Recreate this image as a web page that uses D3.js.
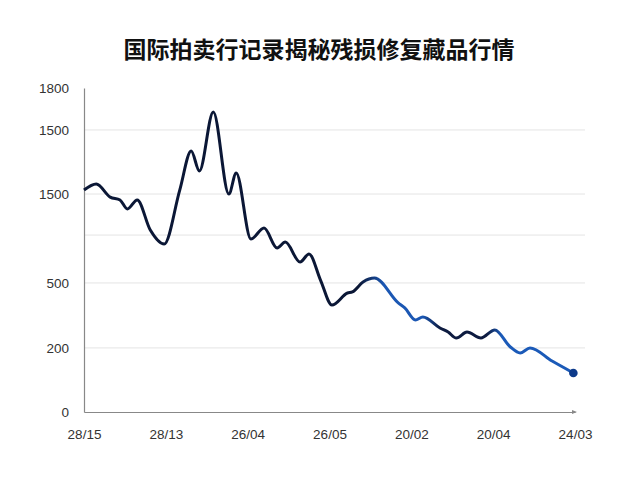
<!DOCTYPE html>
<html>
<head>
<meta charset="utf-8">
<script src="https://cdn.jsdelivr.net/npm/d3@7"></script>
<style>
  body { margin: 0; background: #fff; }
  svg text { font-family: "Liberation Sans", "DejaVu Sans", sans-serif; }
</style>
</head>
<body>
<svg id="chart" width="640" height="480"></svg>
<script>
const title = '国际拍卖行记录揭秘残损修复藏品行情'

// x 位置按刻度序号 (0..6)，y 为读出的数值
const xPos = [0, 0.15, 0.32, 0.44, 0.53, 0.65, 0.81, 0.98, 1.17, 1.31, 1.41, 1.58, 1.77, 1.86,
  2.04, 2.2, 2.36, 2.46, 2.64, 2.75, 2.89, 3.03, 3.22, 3.28, 3.41, 3.55, 3.84, 3.92,
  4.05, 4.14, 4.35, 4.45, 4.55, 4.68, 4.85, 5.02, 5.21, 5.33, 5.45, 5.72, 5.98]
const values = [1233, 1267, 1194, 1178, 1128, 1178, 1011, 933, 1233, 1450, 1339, 1667, 1211, 1328,
  961, 1022, 911, 944, 833, 878, 733, 594, 661, 667, 722, 744, 606, 578,
  511, 528, 467, 444, 411, 444, 411, 456, 361, 328, 356, 283, 217]

const xLabels = ['28/15', '28/13', '26/04', '26/05', '20/02', '20/04', '24/03']
const yTickValues = [0, 356, 717, 983, 1211, 1567, 1800]
const yTickLabels = ['0', '200', '500', '', '1500', '1500', '1800']

const svg = d3.select('#chart')
const x = d3.scaleLinear().domain([0, 6]).range([84, 575])
const y = d3.scaleLinear().domain([0, 1800]).range([412, 88])

// 标题
svg.append('text')
  .attr('x', 319).attr('y', 58)
  .attr('text-anchor', 'middle')
  .style('font-family', '"Noto Sans CJK SC", sans-serif')
  .style('font-size', '23px').style('font-weight', 'bold')
  .attr('fill', '#111')
  .text(title)

// 网格线
svg.append('g')
  .selectAll('line')
  .data(yTickValues.filter(v => v > 0 && v < 1800))
  .join('line')
  .attr('x1', 84).attr('x2', 585)
  .attr('y1', d => y(d)).attr('y2', d => y(d))
  .attr('stroke', '#e4e4e4').attr('stroke-width', 1)

// y 轴
const yAxis = svg.append('g')
  .attr('transform', 'translate(84,0)')
  .call(d3.axisLeft(y).tickValues(yTickValues)
    .tickFormat((d, i) => yTickLabels[i]).tickSize(0).tickPadding(15))
yAxis.select('.domain').attr('stroke', '#888').attr('stroke-width', 1.2)
yAxis.selectAll('text').style('font-size', '13.5px').attr('fill', '#333')

// x 轴
const xAxis = svg.append('g')
  .attr('transform', 'translate(0,412)')
  .call(d3.axisBottom(x).tickValues(d3.range(7))
    .tickFormat((d, i) => xLabels[i]).tickSize(0).tickPadding(17))
xAxis.select('.domain').attr('stroke', '#888').attr('stroke-width', 1.2)
xAxis.selectAll('text').style('font-size', '13.5px').attr('fill', '#333')
svg.append('path')
  .attr('d', 'M572,410 L577,412 L572,414 Z')
  .attr('fill', '#888')

// 线条渐变
const grad = svg.append('defs').append('linearGradient')
  .attr('id', 'lineGrad')
  .attr('gradientUnits', 'userSpaceOnUse')
  .attr('x1', 84).attr('x2', 575).attr('y1', 0).attr('y2', 0)
const stops = [[0, '#0b1736'], [0.56, '#0b1736'], [0.61, '#1b57b3'], [0.69, '#1b57b3'],
  [0.725, '#0d1b40'], [0.82, '#0d1b40'], [0.85, '#1b5ab8'], [1, '#1b5ab8']]
grad.selectAll('stop').data(stops).join('stop')
  .attr('offset', d => d[0]).attr('stop-color', d => d[1])

const points = xPos.map((d, i) => [d, values[i]])
const line = d3.line()
  .x(d => x(d[0])).y(d => y(d[1]))
  .curve(d3.curveMonotoneX)

svg.append('path')
  .datum(points)
  .attr('d', line)
  .attr('fill', 'none')
  .attr('stroke', 'url(#lineGrad)')
  .attr('stroke-width', 3)
  .attr('stroke-linejoin', 'round')

const last = points[points.length - 1]
svg.append('circle')
  .attr('cx', x(last[0])).attr('cy', y(last[1]))
  .attr('r', 4.3).attr('fill', '#0d3a8a')
</script>
</body>
</html>
